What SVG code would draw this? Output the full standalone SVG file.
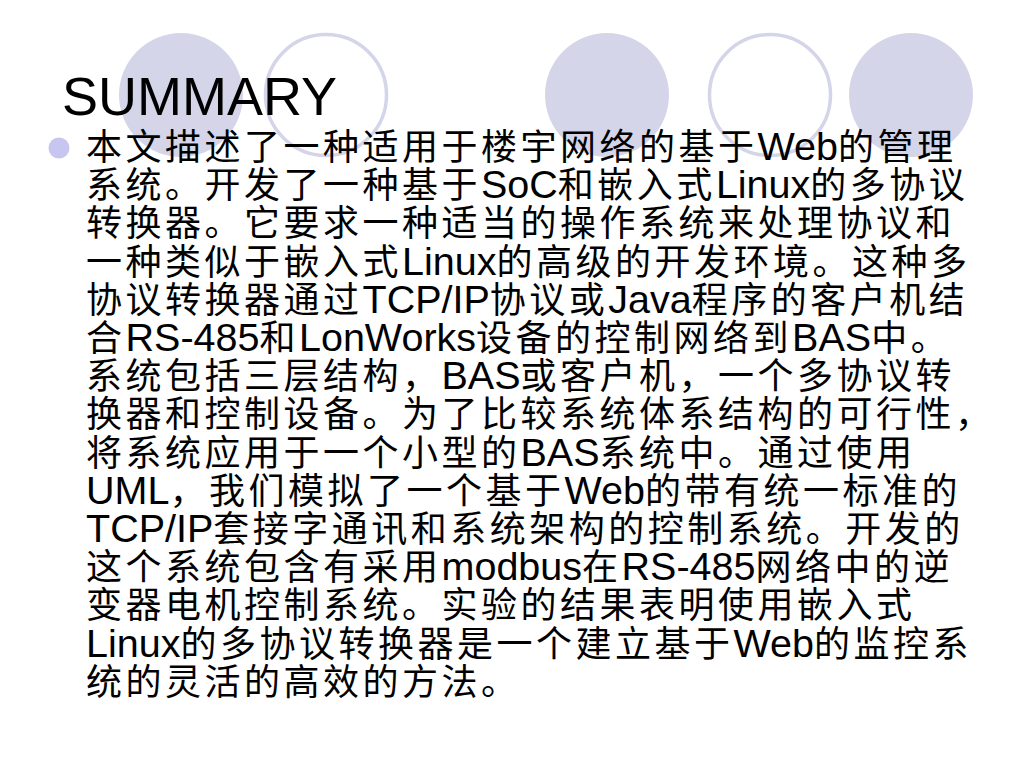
<svg xmlns="http://www.w3.org/2000/svg" width="1024" height="768" viewBox="0 0 1024 768">
<style>
.fc{fill:#d5d5ea}
.oc{fill:none;stroke:#d5d5ea;stroke-width:3.5}
.title{font-family:"Liberation Sans","Noto Sans CJK SC",sans-serif;font-size:54px;fill:#000}
.body text{font-family:"Liberation Sans","Noto Sans CJK SC",sans-serif;font-size:39.5px;fill:#000}
.c{font-family:"Noto Sans CJK SC",sans-serif;font-size:36px;letter-spacing:3.5px}
</style>
<rect width="1024" height="768" fill="#ffffff"/>
<g id="decor">
<circle class="fc" cx="181" cy="95" r="62"/>
<circle class="oc" cx="326" cy="95" r="60.5"/>
<circle class="fc" cx="607" cy="95" r="62"/>
<circle class="oc" cx="770" cy="95" r="60.5"/>
<circle class="fc" cx="911" cy="95" r="62"/>
</g>
<text id="title" class="title" x="62" y="115">SUMMARY</text>
<circle id="bullet" cx="59" cy="148" r="10.5" fill="#c6c6f0"/>
<g id="body" class="body">
<text x="86" y="160"><tspan class="c">本文描述了一种适用于楼宇网络的基于</tspan>Web<tspan class="c">的管理</tspan></text>
<text x="86" y="198.2"><tspan class="c">系统。开发了一种基于</tspan>SoC<tspan class="c">和嵌入式</tspan>Linux<tspan class="c">的多协议</tspan></text>
<text x="86" y="236.4"><tspan class="c">转换器。它要求一种适当的操作系统来处理协议和</tspan></text>
<text x="86" y="274.6"><tspan class="c">一种类似于嵌入式</tspan>Linux<tspan class="c">的高级的开发环境。这种多</tspan></text>
<text x="86" y="312.8"><tspan class="c">协议转换器通过</tspan>TCP/IP<tspan class="c">协议或</tspan>Java<tspan class="c">程序的客户机结</tspan></text>
<text x="86" y="351"><tspan class="c">合</tspan>RS-485<tspan class="c">和</tspan>LonWorks<tspan class="c">设备的控制网络到</tspan>BAS<tspan class="c">中。</tspan></text>
<text x="86" y="389.2"><tspan class="c">系统包括三层结构，</tspan>BAS<tspan class="c">或客户机，一个多协议转</tspan></text>
<text x="86" y="427.4"><tspan class="c">换器和控制设备。为了比较系统体系结构的可行性，</tspan></text>
<text x="86" y="465.6"><tspan class="c">将系统应用于一个小型的</tspan>BAS<tspan class="c">系统中。通过使用</tspan></text>
<text x="86" y="503.8">UML<tspan class="c">，我们模拟了一个基于</tspan>Web<tspan class="c">的带有统一标准的</tspan></text>
<text x="86" y="542">TCP/IP<tspan class="c">套接字通讯和系统架构的控制系统。开发的</tspan></text>
<text x="86" y="580.2"><tspan class="c">这个系统包含有采用</tspan>modbus<tspan class="c">在</tspan>RS-485<tspan class="c">网络中的逆</tspan></text>
<text x="86" y="618.4"><tspan class="c">变器电机控制系统。实验的结果表明使用嵌入式</tspan></text>
<text x="86" y="656.6">Linux<tspan class="c">的多协议转换器是一个建立基于</tspan>Web<tspan class="c">的监控系</tspan></text>
<text x="86" y="694.8"><tspan class="c">统的灵活的高效的方法。</tspan></text>
</g>
</svg>
